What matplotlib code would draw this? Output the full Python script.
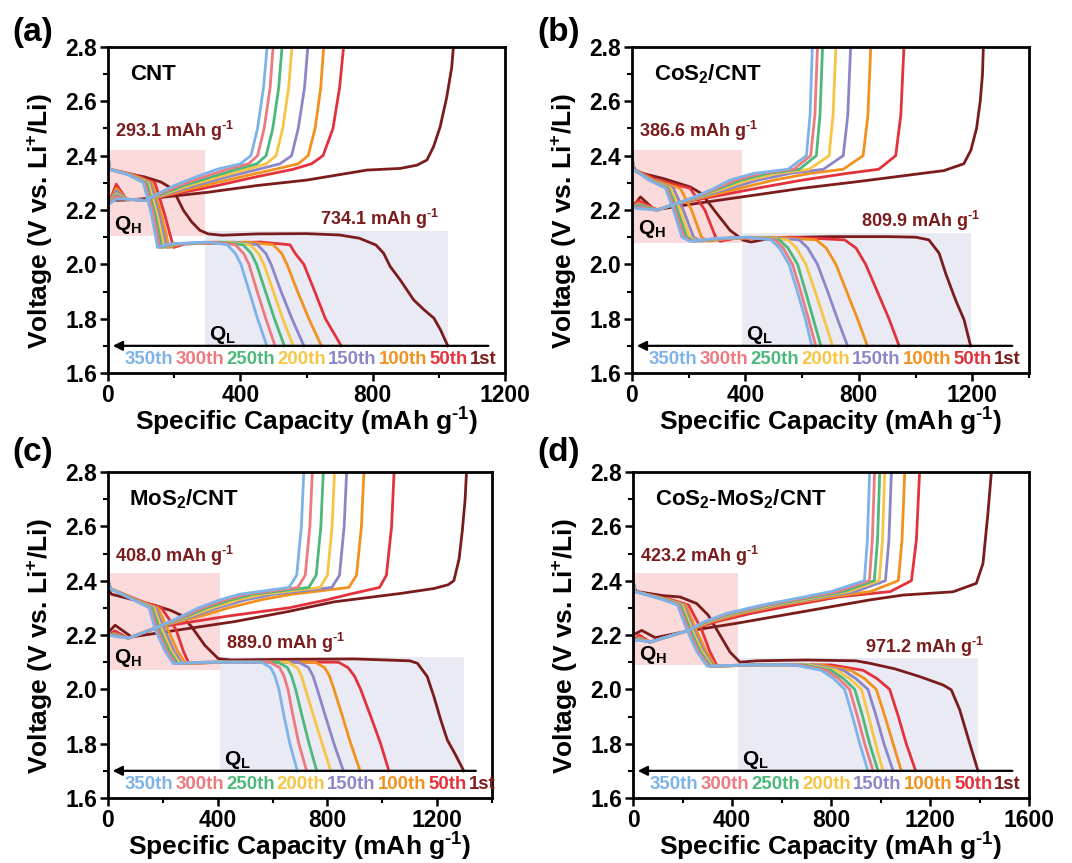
import matplotlib
matplotlib.use("Agg")
import matplotlib.pyplot as plt
import matplotlib.transforms as mtransforms
from matplotlib.patches import Rectangle
from matplotlib.ticker import MultipleLocator, FormatStrFormatter

plt.rcParams["font.family"] = ["Liberation Sans", "DejaVu Sans"]
plt.rcParams["font.weight"] = "bold"
plt.rcParams["mathtext.fontset"] = "custom"
plt.rcParams["mathtext.rm"] = "Liberation Sans:bold"
plt.rcParams["mathtext.bf"] = "Liberation Sans:bold"
plt.rcParams["mathtext.it"] = "Liberation Sans:italic:bold"
plt.rcParams["mathtext.default"] = "regular"

CYCLES = ["1st", "50th", "100th", "150th", "200th", "250th", "300th", "350th"]
COLORS = ["#7B1C1C", "#E3323B", "#F2911E", "#8C86C8", "#F6C545", "#4CB87A", "#EC7A7E", "#7DB3E8"]

# ---------------- CNT ----------------
CNT_Q = (293.1, 734.1)
CNT_1ST_DIS_Q = [0, 4, 50, 110, 160, 185, 208, 228, 253, 278, 303, 345, 450, 600, 700, 760, 810, 833, 853, 883, 924, 955, 985, 1005, 1027]
CNT_1ST_DIS_V = [2.36, 2.35, 2.335, 2.322, 2.303, 2.285, 2.248, 2.199, 2.156, 2.125, 2.112, 2.107, 2.112, 2.113, 2.108, 2.096, 2.071, 2.041, 1.992, 1.943, 1.869, 1.833, 1.802, 1.759, 1.70]
CNT_1ST_CHG_Q = [0, 1, 60, 150, 300, 450, 600, 783, 883, 934, 964, 984, 1004, 1024, 1039, 1044]
CNT_1ST_CHG_V = [2.00, 2.235, 2.237, 2.245, 2.265, 2.29, 2.31, 2.347, 2.353, 2.365, 2.384, 2.433, 2.506, 2.616, 2.726, 2.80]
# later cycles: capacity at each voltage node, rows 50th ... 350th
CNT_DIS_V = [2.40, 2.35, 2.33, 2.30, 2.18, 2.062, 2.075, 2.082, 2.072, 2.04, 2.00, 1.90, 1.80, 1.70]
CNT_DIS_Q = [
    [0, 5, 80, 142, 172, 198, 232, 460, 550, 566, 592, 625, 657, 705],
    [0, 5, 72, 133, 162, 185, 220, 420, 500, 525, 541, 573, 607, 645],
    [0, 5, 68, 127, 155, 177, 212, 380, 452, 477, 493, 523, 556, 592],
    [0, 5, 66, 122, 149, 170, 205, 360, 430, 455, 471, 500, 528, 560],
    [0, 5, 64, 117, 143, 163, 198, 340, 408, 433, 449, 476, 503, 533],
    [0, 5, 62, 112, 138, 157, 192, 320, 385, 410, 426, 451, 477, 505],
    [0, 5, 60, 107, 132, 150, 185, 300, 360, 385, 402, 427, 452, 480],
]
CNT_CHG_V = [2.00, 2.22, 2.24, 2.235, 2.26, 2.29, 2.32, 2.35, 2.37, 2.40, 2.50, 2.65, 2.80]
CNT_BUMP = [2.295, 2.28, 2.27, 2.26, 2.255, 2.25, 2.24]
CNT_CHG_Q = [
    [0, 1, 25, 55, 112, 205, 330, 440, 560, 615, 650, 680, 700, 712],
    [0, 1, 25, 55, 112, 190, 290, 395, 505, 575, 605, 626, 643, 652],
    [0, 1, 25, 55, 112, 180, 262, 355, 455, 520, 555, 575, 594, 604],
    [0, 1, 25, 55, 112, 172, 245, 330, 420, 478, 508, 528, 546, 556],
    [0, 1, 25, 55, 112, 165, 230, 308, 390, 450, 478, 498, 516, 526],
    [0, 1, 25, 55, 112, 158, 215, 285, 360, 425, 452, 472, 490, 499],
    [0, 1, 25, 55, 112, 151, 200, 262, 330, 400, 432, 452, 470, 481],
]

# ---------------- CoS2/CNT ----------------
COS_Q = (386.6, 809.9)
COS_1ST_DIS_Q = [0, 16, 110, 205, 246, 299, 346, 392, 420, 500, 700, 900, 1000, 1047, 1083, 1106, 1141, 1171, 1194]
COS_1ST_DIS_V = [2.37, 2.34, 2.316, 2.285, 2.26, 2.187, 2.125, 2.089, 2.082, 2.098, 2.102, 2.102, 2.10, 2.09, 2.041, 1.967, 1.869, 1.796, 1.70]
COS_1ST_CHG_Q = [0, 1, 30, 80, 200, 400, 600, 800, 950, 1100, 1170, 1195, 1215, 1228, 1236, 1239]
COS_1ST_CHG_V = [2.00, 2.21, 2.248, 2.20, 2.22, 2.25, 2.28, 2.305, 2.325, 2.345, 2.37, 2.42, 2.50, 2.60, 2.70, 2.80]
COS_DIS_V = [2.40, 2.35, 2.31, 2.28, 2.20, 2.10, 2.085, 2.095, 2.10, 2.09, 2.06, 2.00, 1.90, 1.80, 1.70]
COS_DIS_Q = [
    [0, 5, 90, 205, 257, 295, 310, 360, 560, 750, 790, 824, 865, 906, 942],
    [0, 5, 76, 170, 210, 245, 268, 340, 500, 650, 685, 719, 757, 795, 830],
    [0, 5, 70, 146, 181, 217, 242, 330, 460, 590, 620, 654, 690, 724, 760],
    [0, 5, 66, 136, 170, 204, 230, 320, 440, 550, 580, 613, 646, 677, 707],
    [0, 5, 64, 128, 160, 193, 220, 310, 420, 520, 550, 584, 612, 639, 666],
    [0, 5, 62, 123, 152, 184, 212, 300, 410, 505, 533, 566, 595, 622, 648],
    [0, 5, 60, 118, 146, 176, 205, 290, 400, 490, 520, 554, 583, 611, 634],
]
COS_CHG_V = [2.00, 2.21, 2.20, 2.224, 2.25, 2.28, 2.31, 2.335, 2.35, 2.40, 2.55, 2.80]
COS_BUMP = [2.235, 2.225, 2.22, 2.215, 2.215, 2.21, 2.205]
COS_CHG_Q = [
    [0, 1, 22, 90, 157, 290, 440, 600, 760, 870, 930, 948, 959],
    [0, 1, 22, 90, 157, 265, 380, 500, 630, 745, 815, 832, 842],
    [0, 1, 22, 90, 157, 250, 345, 445, 560, 675, 745, 761, 771],
    [0, 1, 22, 90, 157, 240, 325, 410, 515, 625, 695, 709, 719],
    [0, 1, 22, 90, 157, 235, 310, 385, 480, 590, 650, 663, 672],
    [0, 1, 22, 90, 157, 230, 300, 365, 455, 570, 630, 645, 654],
    [0, 1, 22, 90, 157, 225, 290, 345, 430, 550, 615, 628, 636],
]

# ---------------- MoS2/CNT ----------------
MOS_Q = (408.0, 889.0)
MOS_1ST_DIS_Q = [0, 13, 110, 171, 230, 268, 305, 353, 402, 450, 600, 900, 1100, 1128, 1164, 1188, 1213, 1237, 1267, 1297]
MOS_1ST_DIS_V = [2.37, 2.35, 2.325, 2.309, 2.29, 2.272, 2.23, 2.162, 2.113, 2.108, 2.11, 2.112, 2.105, 2.096, 2.047, 1.974, 1.888, 1.814, 1.759, 1.70]
MOS_1ST_CHG_Q = [0, 1, 26, 86, 200, 459, 650, 824, 1067, 1188, 1240, 1261, 1280, 1292, 1302, 1307]
MOS_1ST_CHG_V = [2.00, 2.21, 2.236, 2.193, 2.21, 2.249, 2.285, 2.322, 2.353, 2.371, 2.385, 2.40, 2.48, 2.586, 2.70, 2.80]
MOS_DIS_V = [2.40, 2.37, 2.32, 2.30, 2.22, 2.14, 2.095, 2.10, 2.10, 2.08, 2.05, 2.00, 1.90, 1.80, 1.70]
MOS_DIS_Q = [
    [0, 10, 132, 195, 248, 275, 295, 420, 840, 875, 898, 921, 958, 994, 1024],
    [0, 10, 126, 182, 218, 254, 283, 400, 755, 790, 807, 824, 855, 885, 919],
    [0, 10, 122, 174, 205, 241, 270, 390, 695, 731, 747, 763, 793, 824, 858],
    [0, 10, 119, 168, 196, 232, 262, 380, 655, 690, 705, 720, 750, 781, 812],
    [0, 10, 116, 162, 188, 224, 254, 370, 620, 654, 669, 684, 708, 733, 761],
    [0, 10, 113, 156, 180, 216, 246, 360, 590, 626, 641, 656, 675, 696, 724],
    [0, 10, 110, 150, 172, 208, 238, 350, 560, 593, 608, 623, 642, 663, 690],
]
MOS_CHG_V = [2.00, 2.20, 2.188, 2.23, 2.27, 2.30, 2.33, 2.35, 2.375, 2.42, 2.60, 2.80]
MOS_BUMP = [2.215, 2.205, 2.203, 2.20, 2.20, 2.198, 2.195]
MOS_CHG_Q = [
    [0, 1, 25, 74, 190, 440, 660, 800, 880, 990, 1015, 1034, 1043],
    [0, 1, 25, 74, 183, 340, 440, 560, 670, 878, 906, 924, 933],
    [0, 1, 25, 74, 183, 315, 400, 505, 605, 816, 844, 861, 870],
    [0, 1, 25, 74, 183, 300, 380, 475, 565, 773, 800, 817, 826],
    [0, 1, 25, 74, 183, 290, 360, 450, 530, 732, 759, 776, 785],
    [0, 1, 25, 74, 183, 280, 345, 430, 505, 692, 719, 736, 745],
    [0, 1, 25, 74, 183, 270, 330, 410, 480, 660, 688, 705, 714],
]

# ---------------- CoS2-MoS2/CNT ----------------
CM_Q = (423.2, 971.2)
CM_1ST_DIS_Q = [0, 15, 120, 190, 257, 304, 352, 392, 432, 500, 700, 900, 956, 1060, 1158, 1253, 1286, 1320, 1360, 1394]
CM_1ST_DIS_V = [2.38, 2.36, 2.345, 2.34, 2.316, 2.273, 2.199, 2.137, 2.10, 2.105, 2.108, 2.105, 2.096, 2.075, 2.047, 2.016, 1.998, 1.925, 1.802, 1.70]
CM_1ST_CHG_Q = [0, 1, 35, 90, 224, 418, 687, 956, 1091, 1293, 1387, 1414, 1434, 1448]
CM_1ST_CHG_V = [2.00, 2.20, 2.217, 2.19, 2.215, 2.243, 2.286, 2.329, 2.347, 2.359, 2.39, 2.463, 2.647, 2.80]
CM_DIS_V = [2.40, 2.36, 2.33, 2.31, 2.22, 2.14, 2.085, 2.09, 2.09, 2.07, 2.04, 2.00, 1.90, 1.80, 1.70]
CM_DIS_Q = [
    [0, 8, 155, 225, 277, 310, 340, 520, 800, 930, 985, 1037, 1072, 1104, 1142],
    [0, 8, 145, 213, 255, 295, 333, 500, 760, 880, 935, 983, 1018, 1051, 1084],
    [0, 8, 140, 205, 245, 285, 325, 490, 730, 850, 900, 949, 983, 1014, 1051],
    [0, 8, 135, 199, 238, 278, 319, 480, 710, 825, 875, 923, 952, 980, 1010],
    [0, 8, 130, 193, 231, 271, 313, 470, 690, 800, 850, 896, 928, 956, 990],
    [0, 8, 125, 187, 224, 264, 307, 460, 670, 780, 830, 875, 907, 936, 970],
    [0, 8, 120, 180, 217, 257, 300, 450, 650, 760, 810, 855, 887, 916, 949],
]
CM_CHG_V = [2.00, 2.18, 2.174, 2.217, 2.25, 2.28, 2.31, 2.34, 2.36, 2.40, 2.55, 2.80]
CM_BUMP = [2.20, 2.19, 2.188, 2.186, 2.184, 2.182, 2.18]
CM_CHG_Q = [
    [0, 1, 25, 69, 224, 340, 480, 650, 830, 1040, 1125, 1145, 1158],
    [0, 1, 25, 69, 224, 320, 440, 600, 800, 960, 1072, 1087, 1098],
    [0, 1, 25, 69, 224, 310, 420, 580, 770, 900, 1020, 1034, 1044],
    [0, 1, 25, 69, 224, 305, 410, 565, 750, 870, 995, 1008, 1017],
    [0, 1, 25, 69, 224, 300, 400, 550, 730, 850, 975, 988, 997],
    [0, 1, 25, 69, 224, 295, 390, 535, 710, 825, 955, 967, 976],
    [0, 1, 25, 69, 224, 290, 380, 520, 690, 800, 935, 947, 956],
]

PANELS = [
    dict(tag="(a)", name="CNT", rect=[108, 47, 397, 326], xmax=1200, xticks=[0, 400, 800, 1200],
         q=CNT_Q, first=(CNT_1ST_DIS_Q, CNT_1ST_DIS_V, CNT_1ST_CHG_Q, CNT_1ST_CHG_V),
         dis=(CNT_DIS_V, CNT_DIS_Q), chg=(CNT_CHG_V, CNT_BUMP, CNT_CHG_Q),
         hbox=(2.105, 2.42), ltop=2.124, qltext=(642, 2.166), qhbase=2.127),
    dict(tag="(b)", name="CoS$_2$/CNT", rect=[632, 47, 397, 326], xmax=1400, xticks=[0, 400, 800, 1200],
         q=COS_Q, first=(COS_1ST_DIS_Q, COS_1ST_DIS_V, COS_1ST_CHG_Q, COS_1ST_CHG_V),
         dis=(COS_DIS_V, COS_DIS_Q), chg=(COS_CHG_V, COS_BUMP, COS_CHG_Q),
         hbox=(2.078, 2.42), ltop=2.117, qltext=(807, 2.158), qhbase=2.11),
    dict(tag="(c)", name="MoS$_2$/CNT", rect=[108, 472, 384, 326], xmax=1400, xticks=[0, 400, 800, 1200],
         q=MOS_Q, first=(MOS_1ST_DIS_Q, MOS_1ST_DIS_V, MOS_1ST_CHG_Q, MOS_1ST_CHG_V),
         dis=(MOS_DIS_V, MOS_DIS_Q), chg=(MOS_CHG_V, MOS_BUMP, MOS_CHG_Q),
         hbox=(2.071, 2.427), ltop=2.12, qltext=(429, 2.17), qhbase=2.096),
    dict(tag="(d)", name="CoS$_2$-MoS$_2$/CNT", rect=[633, 472, 396, 326], xmax=1600,
         xticks=[0, 400, 800, 1200, 1600],
         q=CM_Q, first=(CM_1ST_DIS_Q, CM_1ST_DIS_V, CM_1ST_CHG_Q, CM_1ST_CHG_V),
         dis=(CM_DIS_V, CM_DIS_Q), chg=(CM_CHG_V, CM_BUMP, CM_CHG_Q),
         hbox=(2.09, 2.427), ltop=2.117, qltext=(936, 2.157), qhbase=2.108),
]

W, H = 1072, 863
fig = plt.figure(figsize=(W / 100, H / 100), dpi=100)
LW = 2.0
UNIT = r"mAh g$^{\text{-1}}$"


def cycle_row(ax, y):
    # coloured cycle names, laid out left to right from 350th to 1st
    trans = mtransforms.blended_transform_factory(ax.transAxes, ax.transData)
    prev = None
    for name, color in zip(CYCLES[::-1], COLORS[::-1]):
        if prev is None:
            prev = ax.text(0.043, y, name, transform=trans, color=color, fontsize=13.4,
                           fontweight="bold", ha="left", va="center")
        else:
            prev = ax.annotate(name, xy=(1, 0.5), xycoords=prev, xytext=(1.5, 0),
                               textcoords="offset points", color=color, fontsize=13.4,
                               fontweight="bold", ha="left", va="center")


for p in PANELS:
    l, t, w, h = p["rect"]
    ax = fig.add_axes([l / W, 1 - (t + h) / H, w / W, h / H])
    xmax = p["xmax"]
    qh, ql = p["q"]

    # Q_H and Q_L regions
    ax.add_patch(Rectangle((0, p["hbox"][0]), qh, p["hbox"][1] - p["hbox"][0],
                           facecolor="#FADADB", edgecolor="none", zorder=0.5))
    ax.add_patch(Rectangle((qh, 1.70), ql, p["ltop"] - 1.70,
                           facecolor="#EAEAF4", edgecolor="none", zorder=0.5))

    # first cycle
    dq, dv, cq, cv = p["first"]
    ax.plot(dq, dv, color=COLORS[0], lw=LW, zorder=2)
    ax.plot(cq, cv, color=COLORS[0], lw=LW, zorder=2)

    # later cycles
    dis_v, dis_q = p["dis"]
    chg_v, bumps, chg_q = p["chg"]
    for i in range(7):
        c = COLORS[i + 1]
        ax.plot(dis_q[i], dis_v, color=c, lw=LW, zorder=2 + i * 0.01)
        v = chg_v[:2] + [bumps[i]] + chg_v[2:]
        ax.plot(chg_q[i], v, color=c, lw=LW, zorder=2 + i * 0.01)

    ax.set_xlim(0, xmax)
    ax.set_ylim(1.6, 2.8)
    ax.set_xticks(p["xticks"])
    ax.xaxis.set_minor_locator(MultipleLocator(200))
    ax.yaxis.set_major_locator(MultipleLocator(0.2))
    ax.yaxis.set_minor_locator(MultipleLocator(0.1))
    ax.yaxis.set_major_formatter(FormatStrFormatter("%.1f"))
    ax.tick_params(which="major", direction="out", length=6, width=1.8, labelsize=16.5, pad=2,
                   top=False, right=False)
    ax.tick_params(which="minor", direction="out", length=3.5, width=1.5, top=False, right=False)
    for s in ax.spines.values():
        s.set_linewidth(2.0)
    for lab in ax.get_xticklabels() + ax.get_yticklabels():
        lab.set_fontweight("bold")

    ax.set_xlabel("Specific Capacity (" + UNIT + ")", fontsize=19, fontweight="bold")
    ax.xaxis.set_label_coords(0.5, -33 / h)
    ax.xaxis.label.set_va("top")
    ax.set_ylabel("Voltage (V vs. Li$^{+}$/Li)", fontsize=19, fontweight="bold")
    ax.yaxis.set_label_coords(-53 / w, 0.466)

    # annotations
    ax.text(0.055, 0.917, p["name"], transform=ax.transAxes, fontsize=16,
            fontweight="bold", ha="left", va="center")
    ax.text(0.017 * xmax, 2.445, f"{qh:.1f} " + UNIT, color=COLORS[0], fontsize=13,
            fontweight="bold", ha="left", va="bottom")
    ax.text(p["qltext"][0], p["qltext"][1], f"{ql:.1f} " + UNIT, color=COLORS[0],
            fontsize=13, fontweight="bold", ha="left", va="center")
    ax.text(0.015 * xmax, p["qhbase"], "Q$_{H}$", fontsize=15, fontweight="bold",
            ha="left", va="baseline")
    ax.text(qh + 0.01 * xmax, 1.722, "Q$_{L}$", fontsize=15, fontweight="bold",
            ha="left", va="baseline")

    trans = mtransforms.blended_transform_factory(ax.transAxes, ax.transData)
    ax.annotate("", xy=(0.012, 1.70), xytext=(0.958, 1.70), xycoords=trans, textcoords=trans,
                arrowprops=dict(arrowstyle="-|>", color="k", lw=1.6, mutation_scale=14,
                                shrinkA=0, shrinkB=0))
    cycle_row(ax, 1.65)

    # panel tag
    px = 12 if l < 500 else 537
    py = 32 if t < 200 else 452
    fig.text(px / W, 1 - py / H, p["tag"], fontsize=24, fontweight="bold", ha="left", va="center")

fig.savefig("out.png", dpi=100)
